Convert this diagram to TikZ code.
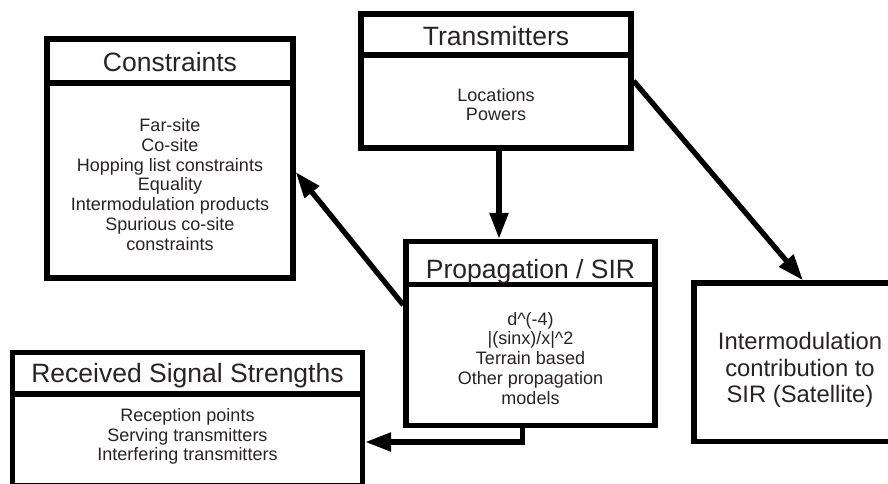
\documentclass[tikz,border=0pt]{standalone}
\usepackage{fontspec}
\setmainfont{Liberation Sans}
\usetikzlibrary{arrows.meta}
\definecolor{ink}{RGB}{42,33,38}
\begin{document}
\begin{tikzpicture}[x=1pt,y=-1pt,
  box/.style={draw=black, line width=5.3pt, rectangle, inner sep=0pt},
  rule/.style={draw=black, line width=5.3pt},
  conn/.style={draw=black, line width=5.3pt, -{Triangle[length=26pt,width=18pt]}},
  title/.style={anchor=base, text=ink, font=\fontsize{26.5}{30}\selectfont, inner sep=0pt},
  body/.style={anchor=base, text=ink, font=\fontsize{18}{19.7}\selectfont, align=center, inner sep=0pt},
  big/.style={anchor=base, text=ink, font=\fontsize{23.8}{26.7}\selectfont, align=center, inner sep=0pt}]
  \clip (0,0) rectangle (888,484);

  % boxes
  \node[box, minimum width=270pt, minimum height=134pt] (tx) at (496,81) {};
  \node[box, minimum width=246pt, minimum height=239pt] (ct) at (170,158.5) {};
  \node[box, minimum width=249pt, minimum height=184pt] (pr) at (530.5,333.5) {};
  \node[box, minimum width=350pt, minimum height=133pt] (rs) at (187.5,419) {};
  \node[box, minimum width=212pt, minimum height=158.5pt] (im) at (800,362.25) {};

  % title rules
  \draw[rule] (tx.west |- 0,55) -- (tx.east |- 0,55);
  \draw[rule] (ct.west |- 0,83) -- (ct.east |- 0,83);
  \draw[rule] (pr.west |- 0,284.5) -- (pr.east |- 0,284.5);
  \draw[rule] (rs.west |- 0,394) -- (rs.east |- 0,394);

  % connectors
  \draw[conn] ([xshift=3pt]tx.south) -- ([xshift=3pt]tx.south |- pr.north);
  \draw[conn] ([yshift=28.5pt]pr.west) -- ([yshift=-13.5pt]ct.east);
  \draw[conn] ([xshift=-8pt]pr.south) |- ([yshift=-23pt]rs.east);
  \draw[conn] (tx.east) -- ([xshift=3pt]im.north);

  % texts (multi-line nodes sit on the baseline of their last line)
  \node[title] (txT) at (496,46) {Transmitters};
  \node[body] (txB) at (496,121) {Locations\\Powers};
  \node[title] (ctT) at (170,71.7) {Constraints};
  \node[body] (ctB) at (170,250) {Far-site\\Co-site\\Hopping list constraints\\Equality\\Intermodulation products\\Spurious co-site\\constraints};
  \node[title] (prT) at (530.5,278) {Propagation / SIR};
  \node[body] (prB) at (530.5,404) {d\textasciicircum(-4)\\|(sinx)/x|\textasciicircum2\\Terrain based\\Other propagation\\models};
  \node[title] (rsT) at (187.5,382) {Received Signal Strengths};
  \node[body] (rsB) at (187.5,460.7) {Reception points\\Serving transmitters\\Interfering transmitters};
  \node[big] (imB) at (800,402.7) {Intermodulation\\contribution to\\SIR (Satellite)};
\end{tikzpicture}
\end{document}
